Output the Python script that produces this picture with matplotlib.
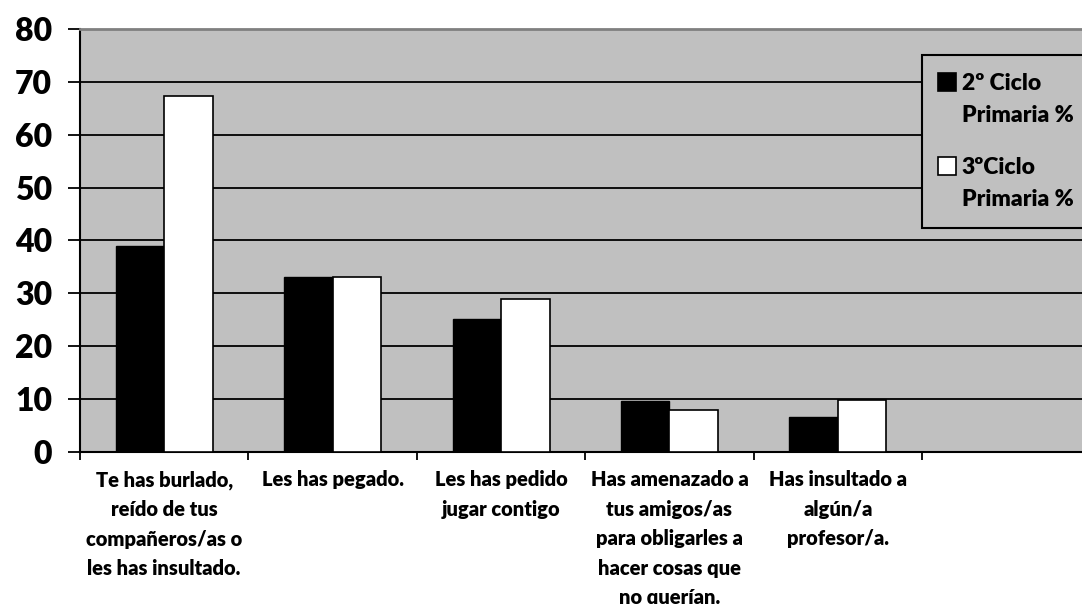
import matplotlib
matplotlib.use("Agg")
import matplotlib.pyplot as plt
import matplotlib.patches as mpatches
import numpy as np

plt.rcParams["font.family"] = ["Lato", "DejaVu Sans"]
plt.rcParams["font.weight"] = "heavy"

CATEGORIES = [
    "Te has burlado,\nreído de tus\ncompañeros/as o\nles has insultado.",
    "Les has pegado.",
    "Les has pedido\njugar contigo",
    "Has amenazado a\ntus amigos/as\npara obligarles a\nhacer cosas que\nno querían.",
    "Has insultado a\nalgún/a\nprofesor/a.",
]
SERIES_NAMES = ["2º Ciclo\nPrimaria %", "3ºCiclo\nPrimaria %"]
SERIES_COLORS = ["black", "white"]
CICLO_2 = [38.9, 33.1, 25.1, 9.7, 6.7]
CICLO_3 = [67.4, 33.0, 28.9, 8.0, 9.9]
Y_TICKS = [0, 10, 20, 30, 40, 50, 60, 70, 80]
N_SLOTS = 6  # the chart reserves one empty category slot on the right

BG = "#C0C0C0"

fig = plt.figure(figsize=(10.82, 6.04), dpi=100)
# plot area runs past the right edge of the image, as in the original
ax = fig.add_axes([0.0739, 0.2517, 0.934, 0.7003])
ax.set_facecolor(BG)

x = np.arange(len(CATEGORIES))
w = 0.288
ax.bar(x - w / 2, CICLO_2, w, color=SERIES_COLORS[0], edgecolor="black", linewidth=1, zorder=3)
ax.bar(x + w / 2, CICLO_3, w, color=SERIES_COLORS[1], edgecolor="black", linewidth=1.2, zorder=3)

ax.set_xlim(-0.5, N_SLOTS - 0.5)
ax.set_ylim(0, 80)
ax.set_yticks(Y_TICKS)
ax.yaxis.grid(True, color="black", linewidth=1.3)
ax.set_axisbelow(True)
ax.tick_params(axis="y", direction="out", length=9, width=1.3, pad=11, labelsize=23)

# category boundaries as major ticks, labels on minor ticks at centres
ax.set_xticks(np.arange(N_SLOTS + 1) - 0.5)
ax.set_xticklabels([])
ax.set_xticks(np.arange(N_SLOTS), minor=True)
ax.set_xticklabels(CATEGORIES + [""], minor=True, fontsize=14.5, linespacing=1.66)
ax.tick_params(axis="x", which="major", direction="out", length=6, width=1.3)
ax.tick_params(axis="x", which="minor", length=0, pad=13)

for side in ["left", "bottom"]:
    ax.spines[side].set_color("black")
    ax.spines[side].set_linewidth(1.5)
ax.spines["top"].set_color("#808080")
ax.spines["top"].set_linewidth(2)
ax.spines["right"].set_color("#808080")


# legend drawn by hand: Excel puts the swatch beside the first text line
def px(xp, yp):
    return (xp - 80) / 1011, (452 - yp) / 423


lx, ly = px(922, 55)
rx, by = px(1100, 228)
ax.add_patch(mpatches.Rectangle((lx, by), rx - lx, ly - by, transform=ax.transAxes,
                                facecolor=BG, edgecolor="black", linewidth=1.5,
                                zorder=5, clip_on=False))
for i, (name, col) in enumerate(zip(SERIES_NAMES, SERIES_COLORS)):
    top = 73 + i * 84
    sx, sy = px(938, top + 18)
    sx2, sy2 = px(956, top)
    ax.add_patch(mpatches.Rectangle((sx, sy), sx2 - sx, sy2 - sy, transform=ax.transAxes,
                                    facecolor=col, edgecolor="black", linewidth=1.2,
                                    zorder=6, clip_on=False))
    tx, ty = px(962, top)
    ax.text(tx, ty, name, transform=ax.transAxes, fontsize=16.5,
            va="top", ha="left", linespacing=1.67, zorder=6)

fig.savefig("out.png", dpi=100)
